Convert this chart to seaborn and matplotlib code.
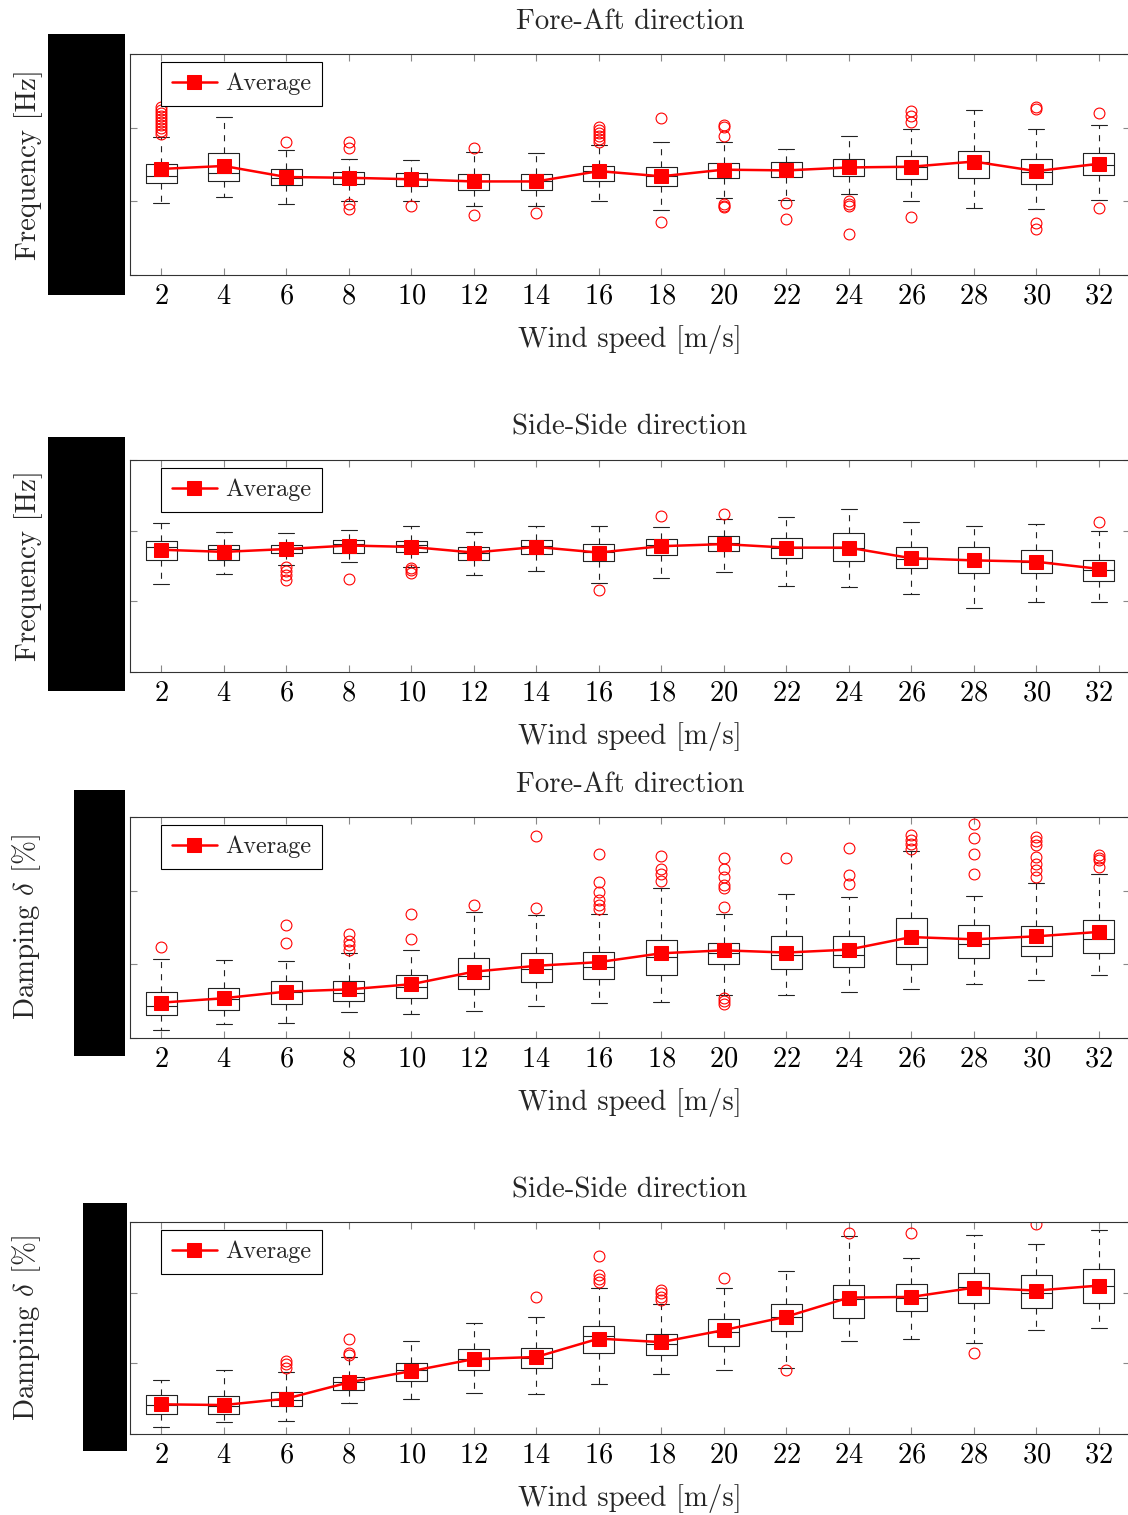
import numpy as np
import matplotlib.pyplot as plt
import seaborn as sns
from matplotlib.patches import Rectangle


wind_speed = list(range(2, 33, 2))

# y tick labels are masked in the source, values are in tick-interval units

# Fore-Aft frequency
fa_freq_q1 = [1.25, 1.28, 1.22, 1.24, 1.21, 1.16, 1.16, 1.28, 1.21, 1.32, 1.33, 1.35, 1.30, 1.31, 1.24, 1.36]
fa_freq_med = [1.35, 1.39, 1.32, 1.32, 1.30, 1.27, 1.27, 1.41, 1.34, 1.43, 1.42, 1.47, 1.47, 1.54, 1.40, 1.50]
fa_freq_q3 = [1.51, 1.65, 1.44, 1.40, 1.39, 1.37, 1.37, 1.48, 1.47, 1.52, 1.53, 1.58, 1.61, 1.69, 1.57, 1.65]
fa_freq_lo = [0.98, 1.06, 0.97, 1.00, 1.01, 0.93, 0.94, 1.00, 0.88, 1.05, 1.02, 1.10, 1.01, 0.91, 0.89, 1.02]
fa_freq_hi = [1.87, 2.14, 1.70, 1.57, 1.56, 1.67, 1.66, 1.76, 1.80, 1.81, 1.71, 1.89, 1.98, 2.24, 1.98, 2.03]
fa_freq_mean = [1.44, 1.48, 1.33, 1.32, 1.30, 1.27, 1.27, 1.41, 1.34, 1.43, 1.42, 1.46, 1.47, 1.54, 1.41, 1.51]
fa_freq_out = [
    [2.28, 2.24, 2.20, 2.16, 2.12, 2.08, 2.04, 1.99, 1.95, 1.91], [], [1.81], [1.81, 1.73, 0.97, 0.90],
    [0.94], [1.72, 0.82], [0.84], [2.01, 1.97, 1.93, 1.89, 1.85, 1.80],
    [2.13, 0.72], [2.04, 2.01, 1.89, 0.97, 0.94, 0.92], [0.98, 0.76], [1.00, 0.96, 0.93, 0.56],
    [2.23, 2.16, 2.08, 0.79], [], [2.28, 2.25, 0.71, 0.62], [2.20, 0.91],
]

# Side-Side frequency
ss_freq_q1 = [1.59, 1.59, 1.68, 1.69, 1.70, 1.59, 1.67, 1.57, 1.66, 1.71, 1.61, 1.57, 1.47, 1.40, 1.40, 1.29]
ss_freq_med = [1.77, 1.74, 1.74, 1.81, 1.80, 1.69, 1.79, 1.70, 1.80, 1.83, 1.76, 1.76, 1.60, 1.58, 1.55, 1.44]
ss_freq_q3 = [1.86, 1.80, 1.80, 1.87, 1.86, 1.77, 1.87, 1.81, 1.88, 1.92, 1.90, 1.96, 1.77, 1.77, 1.72, 1.59]
ss_freq_lo = [1.25, 1.39, 1.51, 1.55, 1.49, 1.37, 1.43, 1.26, 1.33, 1.42, 1.22, 1.20, 1.11, 0.90, 0.99, 0.99]
ss_freq_hi = [2.11, 1.98, 1.96, 2.01, 2.07, 1.98, 2.06, 2.07, 2.05, 2.17, 2.20, 2.31, 2.12, 2.07, 2.10, 2.00]
ss_freq_mean = [1.73, 1.70, 1.74, 1.79, 1.77, 1.69, 1.77, 1.69, 1.78, 1.81, 1.76, 1.76, 1.61, 1.58, 1.56, 1.46]
ss_freq_out = [
    [], [], [1.49, 1.43, 1.37, 1.30], [1.31], [1.47, 1.44, 1.40], [], [], [1.16],
    [2.21], [2.24], [], [], [], [], [], [2.12],
]

# Fore-Aft damping
fa_damp_q1 = [0.31, 0.38, 0.46, 0.50, 0.54, 0.66, 0.76, 0.80, 0.85, 1.00, 0.93, 0.96, 1.00, 1.08, 1.11, 1.15]
fa_damp_med = [0.43, 0.53, 0.62, 0.61, 0.69, 0.84, 0.93, 0.97, 1.10, 1.15, 1.12, 1.13, 1.23, 1.28, 1.25, 1.34]
fa_damp_q3 = [0.63, 0.68, 0.77, 0.77, 0.86, 1.08, 1.15, 1.17, 1.33, 1.29, 1.39, 1.38, 1.63, 1.53, 1.52, 1.60]
fa_damp_lo = [0.11, 0.19, 0.20, 0.35, 0.33, 0.37, 0.44, 0.47, 0.49, 0.58, 0.58, 0.63, 0.66, 0.73, 0.79, 0.85]
fa_damp_hi = [1.07, 1.06, 1.05, 1.15, 1.19, 1.71, 1.67, 1.69, 2.04, 1.68, 1.95, 1.92, 2.54, 1.93, 2.11, 2.22]
fa_damp_mean = [0.48, 0.54, 0.63, 0.66, 0.73, 0.90, 0.98, 1.03, 1.15, 1.19, 1.16, 1.20, 1.37, 1.34, 1.38, 1.44]
fa_damp_out = [
    [1.23], [], [1.53, 1.29], [1.41, 1.31, 1.26, 1.19], [1.68, 1.34], [1.80], [2.74, 1.76],
    [2.50, 2.12, 1.98, 1.87, 1.80, 1.75], [2.47, 2.30, 2.23, 2.13],
    [2.45, 2.30, 2.19, 2.08, 2.03, 1.78, 0.54, 0.50, 0.46], [2.45], [2.58, 2.21, 2.09],
    [2.75, 2.69, 2.63, 2.57], [2.91, 2.71, 2.50, 2.23], [2.73, 2.67, 2.62, 2.46, 2.36, 2.28, 2.18],
    [2.48, 2.45, 2.42, 2.32],
]

# Side-Side damping
ss_damp_q1 = [0.29, 0.29, 0.39, 0.62, 0.75, 0.91, 0.94, 1.14, 1.12, 1.25, 1.46, 1.64, 1.74, 1.85, 1.79, 1.86]
ss_damp_med = [0.41, 0.39, 0.48, 0.73, 0.90, 1.06, 1.08, 1.38, 1.27, 1.45, 1.65, 1.91, 1.92, 2.08, 1.99, 2.10]
ss_damp_q3 = [0.55, 0.54, 0.59, 0.81, 1.00, 1.20, 1.22, 1.53, 1.41, 1.63, 1.84, 2.11, 2.12, 2.28, 2.25, 2.33]
ss_damp_lo = [0.10, 0.17, 0.19, 0.44, 0.50, 0.58, 0.56, 0.71, 0.85, 0.90, 0.94, 1.32, 1.34, 1.29, 1.47, 1.50]
ss_damp_hi = [0.77, 0.91, 0.88, 1.09, 1.31, 1.57, 1.65, 2.07, 1.84, 2.06, 2.31, 2.80, 2.49, 2.81, 2.69, 2.88]
ss_damp_mean = [0.42, 0.41, 0.50, 0.73, 0.89, 1.06, 1.09, 1.35, 1.30, 1.47, 1.66, 1.93, 1.94, 2.07, 2.03, 2.10]
ss_damp_out = [
    [], [], [1.03, 0.99, 0.93], [1.34, 1.15, 1.12], [], [], [1.94], [2.52, 2.25, 2.20, 2.15],
    [2.04, 1.99, 1.94, 1.90], [2.21], [0.90], [2.85], [2.84], [1.15], [2.97], [],
]


sns.set_style("ticks")
plt.rcParams['font.family'] = ['cmr10', 'DejaVu Serif']
plt.rcParams['mathtext.fontset'] = 'cm'
plt.rcParams['axes.unicode_minus'] = False
plt.rcParams['axes.formatter.use_mathtext'] = True

W, H = 1128, 1515
fig = plt.figure(figsize=(W / 100, H / 100), dpi=100)

panels = [
    ('Fore-Aft direction', 'Frequency [Hz]', fa_freq_q1, fa_freq_med, fa_freq_q3, fa_freq_lo, fa_freq_hi,
     fa_freq_mean, fa_freq_out, (54, 275), (48, 34, 125, 295)),
    ('Side-Side direction', 'Frequency [Hz]', ss_freq_q1, ss_freq_med, ss_freq_q3, ss_freq_lo, ss_freq_hi,
     ss_freq_mean, ss_freq_out, (460, 672), (48, 437, 125, 691)),
    ('Fore-Aft direction', r'Damping $\delta$ [%]', fa_damp_q1, fa_damp_med, fa_damp_q3, fa_damp_lo, fa_damp_hi,
     fa_damp_mean, fa_damp_out, (817, 1038), (74, 790, 125, 1056)),
    ('Side-Side direction', r'Damping $\delta$ [%]', ss_damp_q1, ss_damp_med, ss_damp_q3, ss_damp_lo, ss_damp_hi,
     ss_damp_mean, ss_damp_out, (1222, 1434), (83, 1203, 127, 1451)),
]

edge = '#222222'

for title, ylabel, q1, med, q3, lo, hi, mean, out, (top, bot), (mx0, my0, mx1, my1) in panels:
    ax = fig.add_axes([130 / W, 1 - bot / H, 1000 / W, (bot - top) / H])

    stats = [dict(q1=a, med=b, q3=c, whislo=d, whishi=e, fliers=f)
             for a, b, c, d, e, f in zip(q1, med, q3, lo, hi, out)]
    ax.bxp(stats, positions=wind_speed, widths=1.0, capwidths=0.5, manage_ticks=False,
           boxprops=dict(color=edge, linewidth=0.8),
           medianprops=dict(color=edge, linewidth=0.8),
           whiskerprops=dict(color=edge, linewidth=0.8, linestyle=(0, (5.5, 5.5))),
           capprops=dict(color=edge, linewidth=0.8),
           flierprops=dict(marker='o', markerfacecolor='none', markeredgecolor='red',
                           markersize=7.8, markeredgewidth=0.8))

    sns.lineplot(x=wind_speed, y=mean, ax=ax, color='red', linewidth=1.8, marker='s',
                 markersize=9.5, markeredgecolor='red', label='Average', zorder=5)

    ax.set_xlim(1, 33)
    ax.set_ylim(0, 3)
    ax.set_xticks(wind_speed)
    ax.set_yticks([0, 1, 2, 3])
    ax.set_yticklabels([])
    ax.tick_params(direction='in', length=5, width=0.8, color='#888888', top=True, right=True,
                   labelsize=20.5, pad=6, labelcolor='black')
    for sp in ax.spines.values():
        sp.set_color('#333333')
        sp.set_linewidth(0.8)

    ax.set_title(title, fontsize=20.8, pad=18)
    ax.set_xlabel('Wind speed [m/s]', fontsize=20.8, labelpad=11)
    ax.set_ylabel(ylabel, fontsize=20.8)
    ax.yaxis.set_label_coords(-0.087, 0.5)

    leg = ax.legend(loc='upper left', bbox_to_anchor=(0.031, 0.964), borderaxespad=0, fancybox=False,
                    edgecolor='black', framealpha=1, fontsize=17.5, handlelength=1.85,
                    handletextpad=0.33, borderpad=0.45)
    leg.get_frame().set_linewidth(0.8)

    fig.add_artist(Rectangle((mx0 / W, 1 - my1 / H), (mx1 - mx0) / W, (my1 - my0) / H,
                             transform=fig.transFigure, facecolor='black', edgecolor='none', zorder=10))

fig.savefig('out.png', dpi=100)
